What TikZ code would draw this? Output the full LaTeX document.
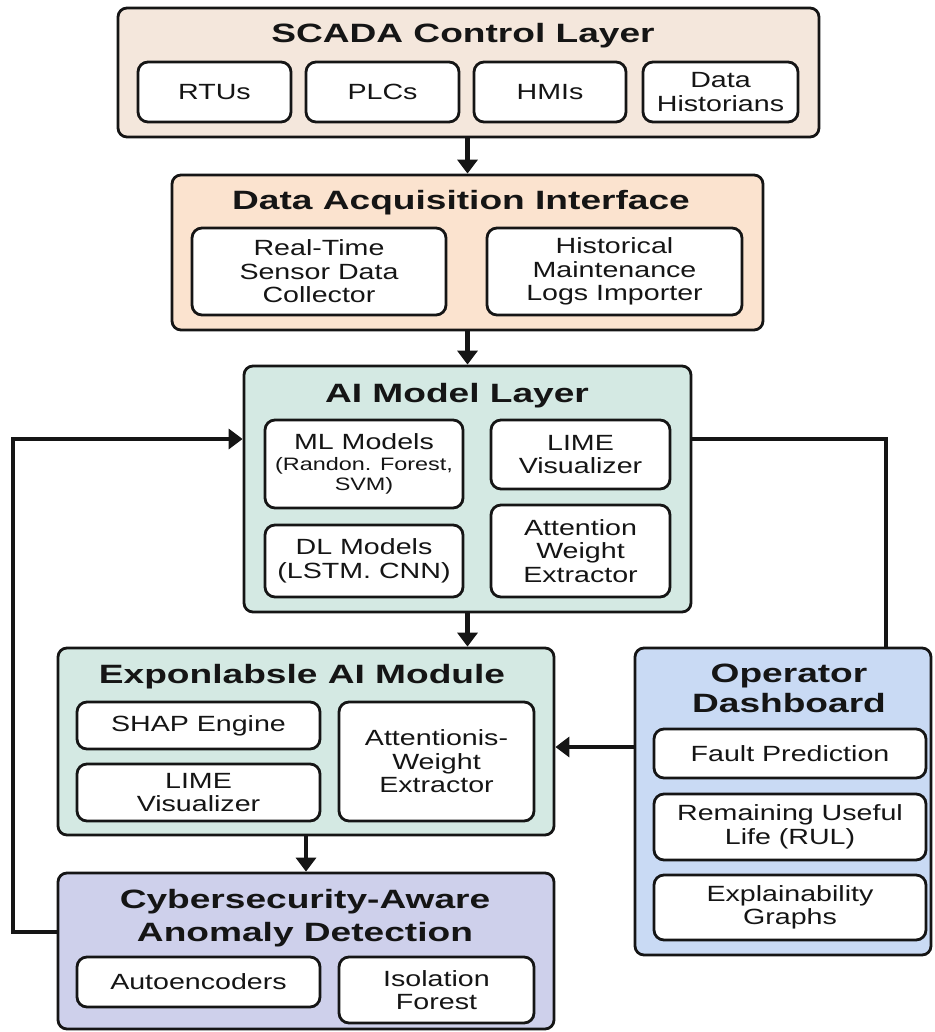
\documentclass[tikz,border=0pt]{standalone}
\usepackage{fontspec}
\setmainfont{Liberation Sans}[FakeStretch=1.3]
\newfontfamily\ttlfont{Liberation Sans}[FakeStretch=1.4]
\usetikzlibrary{arrows.meta}
\definecolor{cscada}{HTML}{F4E7DC}
\definecolor{cdai}{HTML}{FBE3CF}
\definecolor{cai}{HTML}{D4E9E3}
\definecolor{cop}{HTML}{C9DAF4}
\definecolor{ccy}{HTML}{CED0EB}
\definecolor{ink}{HTML}{151515}
\begin{document}
\begin{tikzpicture}[x=1pt,y=-1pt,
  outer/.style={draw=ink, line width=2.8pt, rounded corners=9pt, inner sep=0pt},
  inbox/.style={draw=ink, fill=white, line width=2.8pt, rounded corners=10pt, inner sep=0pt,
    align=center, text=ink, font=\fontsize{22}{23.5}\selectfont},
  ttl/.style={align=center, text=ink, inner sep=0pt, font=\ttlfont\fontsize{26.5}{31}\selectfont\bfseries},
  arr/.style={draw=ink, line width=4.6pt, -{Triangle[width=20pt,length=14pt]}},
  ln/.style={draw=ink, line width=4.6pt}]
\useasboundingbox[fill=white] (0,0) rectangle (934,1032);

% outer boxes
\node[outer, fill=cscada, minimum width=701pt, minimum height=129pt] (scada) at (468.5,72.5) {};
\node[outer, fill=cdai, minimum width=591pt, minimum height=155pt] (dai) at (467.5,252.5) {};
\node[outer, fill=cai, minimum width=447pt, minimum height=246pt] (ai) at (467.5,489) {};
\node[outer, fill=cai, minimum width=496pt, minimum height=187pt] (xai) at (306,741.5) {};
\node[outer, fill=cop, minimum width=296pt, minimum height=307pt] (op) at (783,801.5) {};
\node[outer, fill=ccy, minimum width=496pt, minimum height=156pt] (cyber) at (306,951) {};

% titles
\node[ttl, anchor=base] (tscada) at (463,43) {SCADA Control Layer};
\node[ttl, anchor=base] (tdai) at (461,210) {Data Acquisition Interface};
\node[ttl, anchor=base] (tai) at (457,402) {AI Model Layer};
\node[ttl, anchor=base] (txai) at (302,683) {Exponlabsle AI Module};
\node[ttl, anchor=north, font=\ttlfont\fontsize{26.5}{30}\selectfont\bfseries] (top) at (789,664) {Operator\\Dashboard};
\node[ttl, anchor=north, font=\ttlfont\fontsize{26.5}{33}\selectfont\bfseries] (tcy) at (305,889) {Cybersecurity-Aware\\Anomaly Detection};

% SCADA items
\node[inbox, minimum width=153pt, minimum height=60pt] (rtu) at (214.5,92) {RTUs};
\node[inbox, minimum width=153pt, minimum height=60pt] (plc) at (382.5,92) {PLCs};
\node[inbox, minimum width=152pt, minimum height=60pt] (hmi) at (550,92) {HMIs};
\node[inbox, minimum width=155pt, minimum height=60pt] (hist) at (720.5,92) {Data\\Historians};

% DAI items
\node[inbox, minimum width=254pt, minimum height=87pt] (rt) at (319,271.5) {Real-Time\\Sensor Data\\Collector};
\node[inbox, minimum width=255pt, minimum height=87pt] (hm) at (614.5,271.5) {Historical\\Maintenance\\Logs Importer};

% AI items
\node[inbox, minimum width=198pt, minimum height=88pt] (ml) at (364,464) {ML Models\\[-3pt]{\fontsize{18}{18}\selectfont (Randon. Forest,}\\[-3pt]{\fontsize{18}{18}\selectfont SVM)}};
\node[inbox, minimum width=179pt, minimum height=69pt] (lime) at (580.5,454.5) {LIME\\Visualizer};
\node[inbox, minimum width=198pt, minimum height=72pt] (dl) at (364,561) {DL Models\\(LSTM. CNN)};
\node[inbox, minimum width=179pt, minimum height=92pt] (att) at (580.5,551) {Attention\\Weight\\Extractor};

% XAI items
\node[inbox, minimum width=243pt, minimum height=47pt] (shap) at (198.5,725.5) {SHAP Engine};
\node[inbox, minimum width=243pt, minimum height=57pt] (lime2) at (198.5,792.5) {LIME\\Visualizer};
\node[inbox, minimum width=195pt, minimum height=119pt] (attw) at (436.5,761.5) {Attentionis-\\Weight\\Extractor};

% Operator items
\node[inbox, minimum width=272pt, minimum height=49pt] (fault) at (790,753.5) {Fault Prediction};
\node[inbox, minimum width=272pt, minimum height=66pt] (rul) at (790,827) {Remaining Useful\\Life (RUL)};
\node[inbox, minimum width=272pt, minimum height=65pt] (expl) at (790,907.5) {Explainability\\Graphs};

% Cyber items
\node[inbox, minimum width=243pt, minimum height=50pt] (auto) at (198.5,982) {Autoencoders};
\node[inbox, minimum width=195pt, minimum height=66pt] (iso) at (436.5,990) {Isolation\\Forest};

% connectors
\draw[arr] (dai.north |- scada.south) -- (dai.north);
\draw[arr] (ai.north |- dai.south) -- (ai.north);
\draw[arr] (ai.south) -- (ai.south |- xai.north);
\draw[arr] (xai.south) -- (cyber.north);
\coordinate (oparr) at (635,747);
\draw[arr] (oparr -| op.west) -- (oparr -| xai.east);
\coordinate (lb) at (13,932);
\coordinate (lt) at (13,439);
\draw[arr] (lb -| cyber.west) -- (lb) -- (lt) -- (lt -| ai.west);
\coordinate (rt) at (886,439);
\draw[ln] (rt -| ai.east) -- (rt) -- (rt |- op.north);
\end{tikzpicture}
\end{document}
